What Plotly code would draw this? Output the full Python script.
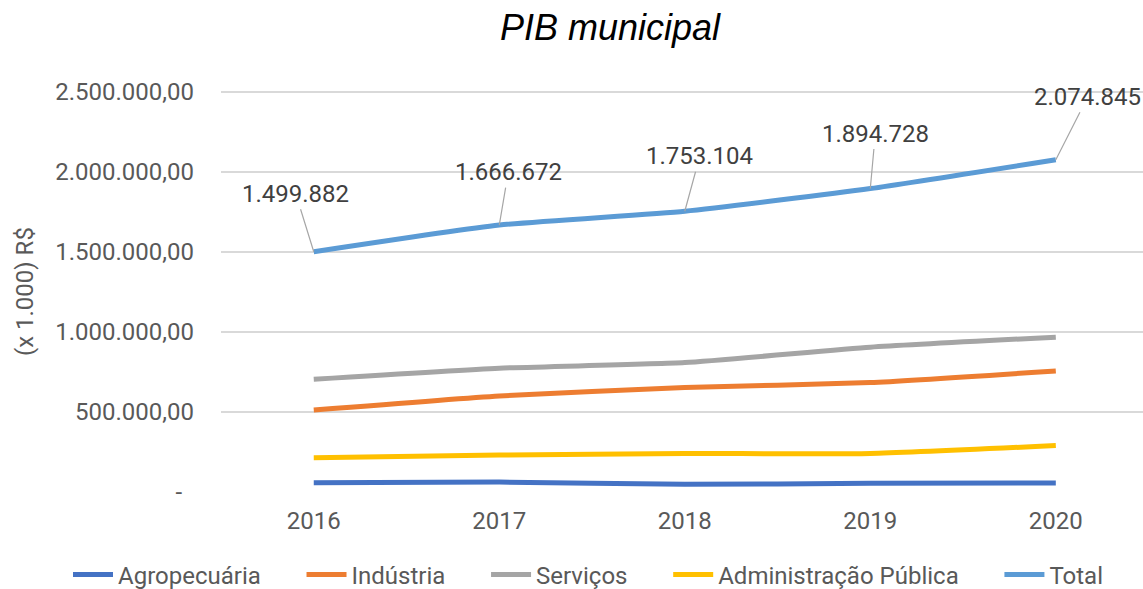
import plotly.graph_objects as go

years = ["2016", "2017", "2018", "2019", "2020"]
agropecuaria = [58000, 62000, 48000, 54000, 56000]
industria = [512000, 600000, 652000, 683000, 756000]
servicos = [704000, 773000, 808000, 904000, 967000]
administracao = [214000, 231000, 240000, 241000, 290000]
total = [1499882, 1666672, 1753104, 1894728, 2074845]

series_names = ["Agropecuária", "Indústria", "Serviços", "Administração Pública", "Total"]
series_values = [agropecuaria, industria, servicos, administracao, total]
colors = ["#4472C4", "#ED7D31", "#A5A5A5", "#FFC000", "#5B9BD5"]

y_tickvals = [0, 500000, 1000000, 1500000, 2000000, 2500000]
y_ticktext = ["-\u00a0\u00a0", "500.000,00", "1.000.000,00", "1.500.000,00", "2.000.000,00", "2.500.000,00"]

label_offsets = [(-18, -58), (9, -53), (15, -55), (5, -55), (32, -63)]

FONT = "Roboto"
PAD = "\u00a0" * 6

fig = go.Figure()
for k, (name, vals, col) in enumerate(zip(series_names, series_values, colors)):
    shown = name + (PAD if k < len(series_names) - 1 else "")
    fig.add_trace(go.Scatter(
        x=years, y=vals, name=shown, mode="lines",
        line=dict(color=col, width=5, shape="spline", smoothing=0.5),
    ))

def fmt(v):
    return f"{v:,}".replace(",", ".")

for i, (v, (ax, ay)) in enumerate(zip(total, label_offsets)):
    fig.add_annotation(
        x=i, y=v, xref="x", yref="y", text=fmt(v),
        showarrow=True, arrowhead=0, arrowwidth=1.2, arrowcolor="#A6A6A6",
        ax=ax, ay=ay, standoff=0, startstandoff=0,
        font=dict(family=FONT, size=24, color="#404040"),
    )

PLOT_L, PLOT_W = 221, 922
PLOT_T, PLOT_B = 89.9, 492
PLOT_H = PLOT_B - PLOT_T

fig.add_annotation(
    text="(x 1.000) R$", xref="paper", yref="paper",
    x=(25 - PLOT_L) / PLOT_W, y=(PLOT_B - 292) / PLOT_H,
    xanchor="center", yanchor="middle",
    textangle=-90, showarrow=False,
    font=dict(family=FONT, size=24, color="#595959"),
)

fig.update_layout(
    width=1143, height=589,
    margin=dict(l=PLOT_L, r=0, t=PLOT_T, b=589 - PLOT_B, autoexpand=False),
    paper_bgcolor="white", plot_bgcolor="white",
    title=dict(text="<i>PIB municipal</i>", x=610 / 1143, xanchor="center",
               y=1 - 27 / 589, yanchor="middle",
               font=dict(family="Liberation Sans", size=36, color="#000000")),
    showlegend=True,
    legend=dict(orientation="h", xref="paper", yref="paper",
                x=(68 - PLOT_L) / PLOT_W, y=(PLOT_B - 575) / PLOT_H,
                xanchor="left", yanchor="middle",
                font=dict(family=FONT, size=24, color="#595959"),
                itemwidth=40, tracegroupgap=0),
    xaxis=dict(type="category", range=[-0.5, 4.47], showgrid=False, zeroline=False,
               showline=False, ticks="", ticklabelstandoff=12,
               tickfont=dict(family=FONT, size=24, color="#595959")),
    yaxis=dict(range=[0, 2510000], tickvals=y_tickvals, ticktext=y_ticktext,
               showgrid=True, gridcolor="#D9D9D9", gridwidth=1.5, zeroline=False,
               showline=False, ticks="", ticklabelstandoff=26,
               tickfont=dict(family=FONT, size=24, color="#595959")),
)

fig.write_html("out.html", config={"displayModeBar": False},
               post_script="document.body.style.margin='0';document.body.style.overflow='hidden';")
